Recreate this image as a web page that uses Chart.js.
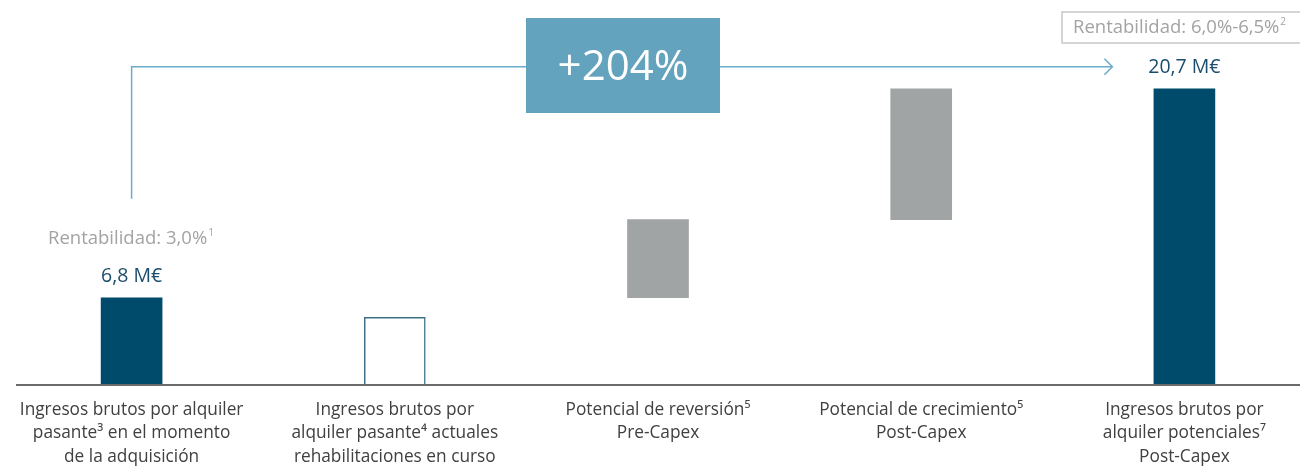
<!DOCTYPE html>
<html>
<head>
<meta charset="utf-8">
<script src="https://cdn.jsdelivr.net/npm/chart.js@4.4.0/dist/chart.umd.min.js"></script>
<style>
  html, body { margin: 0; padding: 0; background: #fff; overflow: hidden; }
  #wrap { width: 1300px; height: 468px; overflow: hidden; }
</style>
</head>
<body>
<div id="wrap">
  <canvas id="puente" width="1316" height="468"></canvas>
</div>
<script>
// etiquetas del eje (una linea por elemento)
const categorias = [
  ['Ingresos brutos por alquiler', 'pasante³ en el momento', 'de la adquisición'],
  ['Ingresos brutos por', 'alquiler pasante⁴ actuales', 'rehabilitaciones en curso'],
  ['Potencial de reversión⁵', 'Pre-Capex'],
  ['Potencial de crecimiento⁵', 'Post-Capex'],
  ['Ingresos brutos por', 'alquiler potenciales⁷', 'Post-Capex']
];
// M€ - inicio y fin de cada barra (cascada)
const inicio = [null, null, 6.8, 12.0, null];
const fin = [6.8, 5.5, 12.0, 20.7, 20.7];
const etiquetaValor = ['6,8 M€', '', '', '', '20,7 M€'];
const rentInicial = 'Rentabilidad: 3,0%';
const rentFinal = 'Rentabilidad: 6,0%-6,5%';
const incremento = '+204%';
// el eje del original no parte de cero
const ejeMin = 1;
const ejeMax = 26.6;

const AZUL = '#004a6b';
const GRIS = '#a0a4a5';
const FONT = "'Open Sans', 'Noto Sans', sans-serif";

const datos = fin.map((v, i) => inicio[i] === null ? v : [inicio[i], v]);

const anotaciones = {
  id: 'anotaciones',
  afterDraw(chart) {
    const ctx = chart.ctx;
    const x = chart.scales.x, y = chart.scales.y;
    const area = chart.chartArea;
    ctx.save();

    // linea base
    ctx.strokeStyle = '#6b6b6b';
    ctx.lineWidth = 2;
    ctx.beginPath();
    ctx.moveTo(area.left + 16, area.bottom);
    ctx.lineTo(area.right, area.bottom);
    ctx.stroke();

    const x0 = x.getPixelForValue(0);
    const x4 = x.getPixelForValue(4);
    const top0 = y.getPixelForValue(fin[0]);
    const top4 = y.getPixelForValue(fin[4]);

    // valores encima de las barras
    ctx.fillStyle = '#1b4d6c';
    ctx.font = '19.5px ' + FONT;
    ctx.textAlign = 'center';
    ctx.textBaseline = 'middle';
    ctx.fillText(etiquetaValor[0], x0, top0 - 21);
    ctx.fillText(etiquetaValor[4], x4, top4 - 21);

    // rentabilidad inicial
    ctx.fillStyle = '#a3a3a3';
    ctx.font = '18.5px ' + FONT;
    ctx.textAlign = 'left';
    let w = ctx.measureText(rentInicial).width;
    let tx = x0 - 4 - w / 2;
    ctx.fillText(rentInicial, tx, top0 - 59);
    ctx.font = '10px ' + FONT;
    ctx.fillText('1', tx + w + 1, top0 - 65);

    // flecha
    const flechaY = top4 - 22;
    const flechaFin = x4 - 72;
    ctx.strokeStyle = '#6aacca';
    ctx.lineWidth = 1.5;
    ctx.beginPath();
    ctx.moveTo(x0, top0 - 99);
    ctx.lineTo(x0, flechaY);
    ctx.lineTo(flechaFin, flechaY);
    ctx.stroke();
    ctx.beginPath();
    ctx.moveTo(flechaFin - 8, flechaY - 8);
    ctx.lineTo(flechaFin, flechaY);
    ctx.lineTo(flechaFin - 8, flechaY + 8);
    ctx.stroke();

    // caja +204%
    const cx = x.getPixelForValue(2) - 35;
    ctx.fillStyle = '#63a3be';
    ctx.fillRect(cx - 97, 18, 194, 95);
    ctx.fillStyle = '#ffffff';
    ctx.font = '42px ' + FONT;
    ctx.textAlign = 'center';
    ctx.fillText(incremento, cx, 68);

    // caja rentabilidad final
    ctx.strokeStyle = '#c8c8c8';
    ctx.lineWidth = 1.5;
    ctx.strokeRect(1062, 12, 250, 31);
    ctx.fillStyle = '#a3a3a3';
    ctx.font = '18.5px ' + FONT;
    ctx.textAlign = 'left';
    w = ctx.measureText(rentFinal).width;
    ctx.fillText(rentFinal, 1073, 28);
    ctx.font = '10px ' + FONT;
    ctx.fillText('2', 1073 + w + 1, 22);

    ctx.restore();
  }
};

new Chart(document.getElementById('puente'), {
  type: 'bar',
  data: {
    labels: categorias,
    datasets: [{
      data: datos,
      backgroundColor: ['#004a6b', '#ffffff', GRIS, GRIS, AZUL],
      borderColor: ['#004a6b', '#3d6f87', GRIS, GRIS, AZUL],
      borderWidth: [0, 1.5, 0, 0, 0],
      borderSkipped: 'start',
      barThickness: 61
    }]
  },
  options: {
    responsive: false,
    animation: false,
    layout: { padding: 0 },
    plugins: {
      legend: { display: false },
      tooltip: { enabled: false }
    },
    scales: {
      x: {
        grid: { display: false, drawTicks: false },
        border: { display: false },
        ticks: {
          color: '#404040',
          padding: 13,
          maxRotation: 0,
          autoSkip: false,
          font: { family: FONT, size: 17.3, lineHeight: 1.36 }
        },
        afterFit(scale) { scale.height = 83; }
      },
      y: {
        display: false,
        min: ejeMin,
        max: ejeMax
      }
    }
  },
  plugins: [anotaciones]
});
</script>
</body>
</html>
